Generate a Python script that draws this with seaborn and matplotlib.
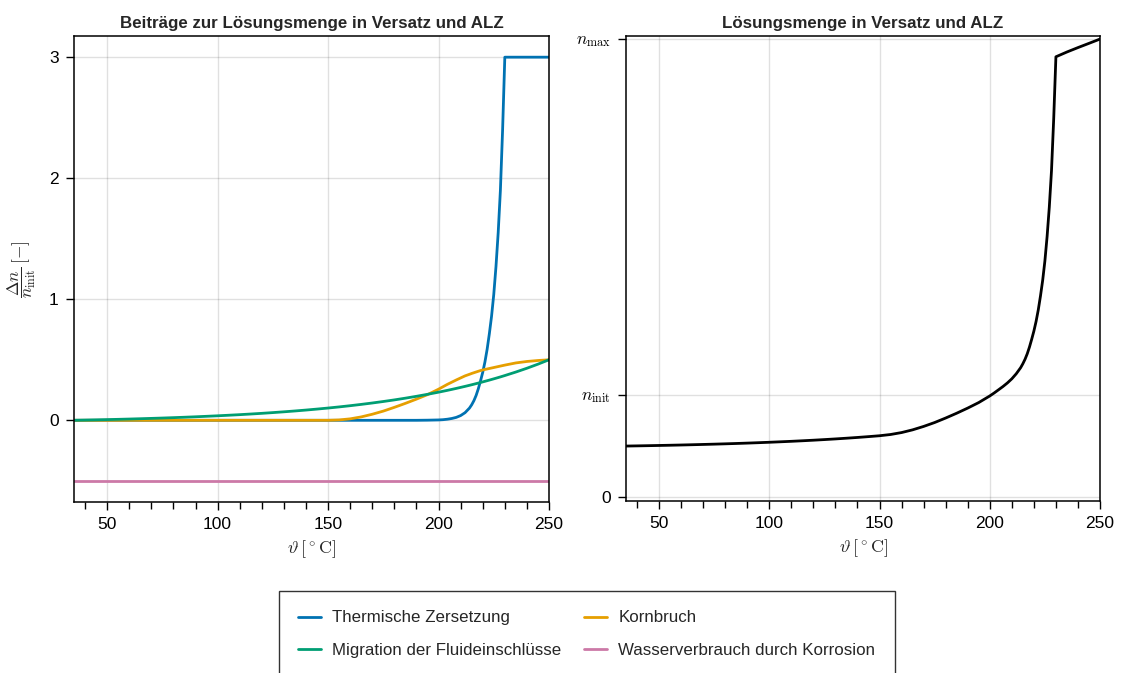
import matplotlib
matplotlib.use("Agg")
import numpy as np
import pandas as pd
import seaborn as sns
import matplotlib.pyplot as plt
from matplotlib.ticker import MultipleLocator, FixedLocator

# ---------------- data ----------------
temperature = [35, 40, 45, 50, 55, 60, 65, 70, 75, 80, 85, 90, 95, 100, 105, 110,
               115, 120, 125, 130, 135, 140, 145, 150, 155, 160, 165, 170, 175, 180,
               185, 190, 195,
               200, 202, 204, 206, 208, 210, 212, 214,
               215, 216, 217, 218, 219, 220, 221, 222, 223, 224, 225, 226, 227, 228,
               229, 230,
               235, 240, 245, 250]

thermal = [0.0] * 32 + [0.001,
           0.003, 0.005, 0.009, 0.015, 0.024, 0.039, 0.063, 0.101,
           0.128, 0.162, 0.205, 0.26, 0.325, 0.396, 0.482, 0.587, 0.715, 0.86,
           1.04, 1.27, 1.55, 1.90, 2.40, 3.0,
           3.0, 3.0, 3.0, 3.0]

kornbruch = [0.0] * 23 + [0.0, 0.003, 0.012, 0.028, 0.05, 0.076, 0.107, 0.14, 0.175, 0.212,
             0.257, 0.277, 0.297, 0.315, 0.333, 0.35, 0.367, 0.38,
             0.387, 0.393, 0.399, 0.405, 0.411, 0.416, 0.42, 0.424, 0.428, 0.432,
             0.436, 0.44, 0.444, 0.448, 0.452, 0.456,
             0.474, 0.486, 0.494, 0.5]

migration = [0.0, 0.0018, 0.0037, 0.0058, 0.008, 0.0104, 0.013, 0.0158, 0.0187, 0.0219,
             0.0253, 0.029, 0.033, 0.0372, 0.0418, 0.0466, 0.0519, 0.0575, 0.0636,
             0.0701, 0.0771, 0.0846, 0.0927, 0.1013, 0.1106, 0.1206, 0.1314, 0.1429,
             0.1553, 0.1685, 0.1828, 0.1982, 0.2146,
             0.2323, 0.2398, 0.2474, 0.2553, 0.2634, 0.2718, 0.2803, 0.2891,
             0.2937, 0.2982, 0.3029, 0.3076, 0.3123, 0.3172, 0.3221, 0.3271, 0.3321,
             0.3373, 0.3425, 0.3478, 0.3531, 0.3585, 0.3641, 0.3697,
             0.3988, 0.4301, 0.4638, 0.5]

corrosion = [-0.5] * len(temperature)

series_names = ["Thermische Zersetzung", "Kornbruch",
                "Migration der Fluideinschlüsse", "Wasserverbrauch durch Korrosion"]
series_colors = ["#0072B2", "#E69F00", "#009E73", "#CC79A7"]

title_left = "Beiträge zur Lösungsmenge in Versatz und ALZ"
title_right = "Lösungsmenge in Versatz und ALZ"
x_ticks = [50, 100, 150, 200, 250]
left_y_ticks = [0, 1, 2, 3]

# ---------------- build tables ----------------
T = np.array(temperature)
frames = []
for name, vals in zip(series_names, [thermal, kornbruch, migration, corrosion]):
    frames.append(pd.DataFrame({"T": T, "value": vals, "series": name}))
df_left = pd.concat(frames, ignore_index=True)

n_rel = 1.0 + np.array(thermal) + np.array(kornbruch) + np.array(migration) + np.array(corrosion)
df_right = pd.DataFrame({"T": T, "n": n_rel})
n_max = float(n_rel.max())

# ---------------- style ----------------
sns.set_theme(style="white")
plt.rcParams["font.family"] = ["Liberation Sans", "DejaVu Sans"]
plt.rcParams["mathtext.fontset"] = "cm"

fig = plt.figure(figsize=(11.22, 6.73), dpi=100)
ax1 = fig.add_axes([74 / 1122, 1 - 502 / 673, 475 / 1122, 466 / 673])
ax2 = fig.add_axes([626 / 1122, 1 - 501 / 673, 474 / 1122, 465 / 673])

palette = dict(zip(series_names, series_colors))
sns.lineplot(data=df_left, x="T", y="value", hue="series", palette=palette,
             hue_order=series_names, estimator=None, linewidth=2.0, ax=ax1)
sns.lineplot(data=df_right, x="T", y="n", color="black", estimator=None,
             linewidth=2.0, ax=ax2)

for ax in (ax1, ax2):
    ax.set_xlim(35, 250)
    ax.xaxis.set_major_locator(FixedLocator(x_ticks))
    ax.xaxis.set_minor_locator(MultipleLocator(10))
    ax.grid(True, which="major", color="#000000", alpha=0.12, linewidth=1.0)
    ax.set_axisbelow(True)
    for sp in ax.spines.values():
        sp.set_color("black")
        sp.set_linewidth(1.1)
        sp.set_visible(True)
    ax.tick_params(axis="both", which="major", direction="out", length=6, width=1.0,
                   color="black", labelsize=12.5, labelcolor="black", pad=5,
                   bottom=True, left=True)
    ax.tick_params(axis="x", which="minor", direction="out", length=5, width=1.0,
                   color="black", bottom=True)
    ax.set_xlabel(r"$\vartheta\,[^\circ\mathrm{C}]$", fontsize=13, labelpad=4)

ax1.set_ylim(-0.675, 3.175)
ax1.yaxis.set_major_locator(FixedLocator(left_y_ticks))
ax1.set_ylabel(r"$\dfrac{\Delta n}{n_{\mathrm{init}}}\,[-]$", fontsize=12.5, labelpad=8)
ax1.set_title(title_left, fontsize=12.2, fontweight="bold", pad=6)
ax1.get_legend().remove()

ax2.set_ylim(-0.04, 4.53)
ax2.yaxis.set_major_locator(FixedLocator([0, 1, n_max]))
ax2.set_yticklabels(["0", r"$n_{\mathrm{init}}$", r"$n_{\mathrm{max}}$"])
ax2.set_ylabel("")
ax2.set_title(title_right, fontsize=12.2, fontweight="bold", pad=6)

handles, labels = ax1.get_legend_handles_labels()
order = [0, 2, 1, 3]
leg = fig.legend([handles[i] for i in order], [labels[i] for i in order],
                 loc="upper center", bbox_to_anchor=(0.523, 1 - 591 / 673), ncol=2,
                 fontsize=12.2, frameon=True, fancybox=False, edgecolor="black",
                 handlelength=1.35, handletextpad=0.65, columnspacing=1.35,
                 borderpad=1.15, labelspacing=1.05, borderaxespad=0)
leg.get_frame().set_linewidth(1.0)
for line in leg.get_lines():
    line.set_linewidth(2.0)

fig.savefig("out.png", dpi=100)
